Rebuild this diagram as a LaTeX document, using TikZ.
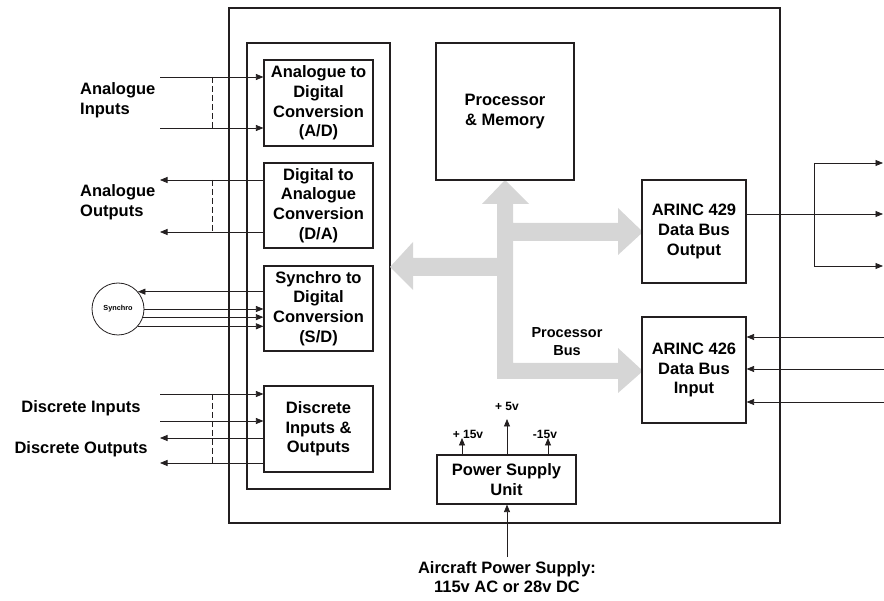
\documentclass[tikz,border=0pt]{standalone}
\usepackage{fontspec}
\setmainfont{Liberation Sans}
\usepackage{tikz}
\usetikzlibrary{arrows.meta, positioning, calc}
\definecolor{busgray}{HTML}{D6D6D6}
\definecolor{ink}{HTML}{231F20}

\begin{document}
\begin{tikzpicture}[x=1pt, y=-1pt,
  blk/.style={draw=ink, line width=1.2pt, inner sep=0pt, align=center,
              font=\bfseries\fontsize{16.5}{19.7}\selectfont},
  lbl/.style={inner sep=0pt, font=\bfseries\fontsize{16.5}{19.7}\selectfont},
  sig/.style={-{Triangle[length=7.5pt, width=6pt]}, line width=0.8pt, color=ink},
  tie/.style={dash pattern=on 6pt off 3pt, line width=0.6pt, color=ink},
  volt/.style={inner sep=0pt, font=\bfseries\fontsize{12}{14}\selectfont}
]
\useasboundingbox (0,0) rectangle (884,601);

% Unit case and I/O frame
\draw[ink, line width=2.5pt] (229,8) rectangle (780,523);
\draw[ink, line width=1.2pt] (247,43) rectangle (390,489);

% Processor bus (grey arrows)
\fill[busgray] (505,180) -- (529,204) -- (513,204) -- (513,223) -- (618,223)
  -- (618,208) -- (643,232) -- (618,255) -- (618,241) -- (513,241)
  -- (513,363) -- (618,363) -- (618,348) -- (643,371) -- (618,393)
  -- (618,379) -- (497,379) -- (497,276) -- (413,276) -- (413,290)
  -- (390,267) -- (413,242) -- (413,258) -- (497,258) -- (497,204)
  -- (482,204) -- cycle;
\node[font=\bfseries\fontsize{14.5}{18}\selectfont, align=center, inner sep=0pt]
  (busl) at (567,342) {Processor\\Bus};

% Conversion modules
\node[blk, minimum width=109pt, minimum height=86pt] (ad) at (318.5,103)
  {Analogue to\\Digital\\Conversion\\(A/D)};
\node[blk, minimum width=109pt, minimum height=85pt] (da) at (318.5,205.5)
  {Digital to\\Analogue\\Conversion\\(D/A)};
\node[blk, minimum width=109pt, minimum height=85pt] (sd) at (318.5,308.5)
  {Synchro to\\Digital\\Conversion\\(S/D)};
\node[blk, minimum width=109pt, minimum height=86pt] (dio) at (318.5,429)
  {Discrete\\Inputs \&\\Outputs};

% Processor & Memory
\node[blk, minimum width=138pt, minimum height=137pt] (cpu) at (505,111.5)
  {Processor\\\& Memory};

% ARINC interfaces
\node[blk, minimum width=104pt, minimum height=103pt] (a429) at (694,231.5)
  {ARINC 429\\Data Bus\\Output};
\node[blk, minimum width=104pt, minimum height=106pt] (a426) at (694,370)
  {ARINC 426\\Data Bus\\Input};

% Power supply
\node[blk, minimum width=139pt, minimum height=49pt] (psu) at (506.5,479.5)
  {Power Supply\\Unit};

% Analogue inputs
\node[lbl, align=left, anchor=west] (ainl) at (80,100) {Analogue\\Inputs};
\coordinate (ai1) at (160,77);
\coordinate (ai2) at (160,128);
\draw[sig] (ai1) -- (ai1 -| ad.west);
\draw[sig] (ai2) -- (ai2 -| ad.west);
\draw[tie] (212,77) -- (212,128);

% Analogue outputs
\node[lbl, align=left, anchor=west] (aoutl) at (80,202) {Analogue\\Outputs};
\coordinate (ao1) at (160,180);
\coordinate (ao2) at (160,232);
\draw[sig] (ao1 -| da.west) -- (ao1);
\draw[sig] (ao2 -| da.west) -- (ao2);
\draw[tie] (212,180) -- (212,232);

% Synchro
\node[draw=ink, circle, line width=0.8pt, minimum size=52pt, inner sep=0pt,
      font=\bfseries\fontsize{7.3}{9}\selectfont] (syn) at (118,309) {Synchro};
\draw[sig] (syn.41 -| sd.west) -- (syn.41);
\draw[sig] (syn.0) -- (syn.0 -| sd.west);
\draw[sig] (syn.-18) -- (syn.-18 -| sd.west);
\draw[sig] (syn.-41) -- (syn.-41 -| sd.west);

% Discretes
\node[lbl] (dinl) at (81,408) {Discrete Inputs};
\node[lbl] (doutl) at (81,449) {Discrete Outputs};
\coordinate (di1) at (160,394);
\coordinate (di2) at (160,421);
\coordinate (do1) at (160,438);
\coordinate (do2) at (160,463);
\draw[sig] (di1) -- (di1 -| dio.west);
\draw[sig] (di2) -- (di2 -| dio.west);
\draw[sig] (do1 -| dio.west) -- (do1);
\draw[sig] (do2 -| dio.west) -- (do2);
\draw[tie] (212,394) -- (212,463);

% ARINC 429 outputs
\coordinate (o1) at (883,163);
\coordinate (o2) at (883,214);
\coordinate (o3) at (883,266);
\draw[sig] (o2 -| a429.east) -- (o2);
\draw[ink, line width=0.8pt] (814,163) -- (814,266);
\draw[sig] (o1 -| 814,0) -- (o1);
\draw[sig] (o3 -| 814,0) -- (o3);

% ARINC 426 inputs
\foreach \y/\n in {337/1, 369/2, 402/3}{
  \coordinate (i\n) at (884,\y);
  \draw[sig] (i\n) -- (i\n -| a426.east);
}

% Supply rails
\coordinate (v5) at (507,419);
\coordinate (v15) at (462,438);
\coordinate (vm15) at (548,438);
\draw[sig] (v5 |- psu.north) -- (v5);
\draw[sig] (v15 |- psu.north) -- (v15);
\draw[sig] (vm15 |- psu.north) -- (vm15);
\node[volt] (l5) at (507,406) {+ 5v};
\node[volt] (l15) at (468,434) {+ 15v};
\node[volt] (lm15) at (545,434) {-15v};

% Aircraft supply
\coordinate (acp) at (507,557);
\draw[sig] (acp) -- (acp |- psu.south);
\node[lbl, align=center] (acpl) at (507,577)
  {Aircraft Power Supply:\\115v AC or 28v DC};

\end{tikzpicture}
\end{document}
